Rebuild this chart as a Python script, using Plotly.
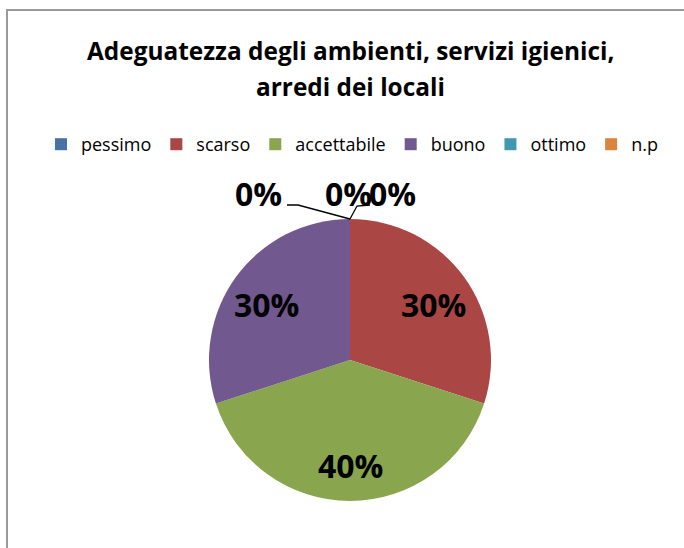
import math
import plotly.graph_objects as go

categories = ["pessimo", "scarso", "accettabile", "buono", "ottimo", "n.p"]
values = [0, 30, 40, 30, 0, 0]
colors = ["#4572A7", "#AA4643", "#89A54E", "#71588F", "#4198AF", "#DB843D"]
title_lines = ["Adeguatezza degli ambienti, servizi igienici,", "arredi dei locali"]

W, H = 684, 548
font_family = "'Open Sans', 'Liberation Sans', sans-serif"

# pie geometry (pixels)
cx, cy, r = 350, 360, 141


def px(x):
    return x / W


def py(y):
    return 1 - y / H


total = sum(values)
pct_text = [f"{round(100 * v / total)}%" for v in values]

fig = go.Figure()
fig.add_trace(go.Pie(
    labels=categories,
    values=values,
    sort=False,
    direction="clockwise",
    rotation=0,
    marker=dict(colors=colors, line=dict(color="white", width=0)),
    textinfo="none",
    domain=dict(x=[px(cx - r), px(cx + r)], y=[py(cy + r), py(cy - r)]),
    showlegend=True,
    hoverinfo="label+percent",
))

label_font = dict(family=font_family, size=32, color="black", weight="bold")
annotations = []

# title (two lines)
for text, ty in zip(title_lines, [50, 87]):
    annotations.append(dict(
        x=px(350), y=py(ty), xref="paper", yref="paper", text=text, showarrow=False,
        xanchor="center", yanchor="middle",
        font=dict(family=font_family, size=24.4, color="black", weight="bold"),
    ))

# inside labels, placed at the mid-angle of each slice
cum = 0
for v, t in zip(values, pct_text):
    if v > 0:
        mid = 2 * math.pi * (cum + v / 2) / total
        lx = cx + 0.73 * r * math.sin(mid)
        ly = cy - 0.72 * r * math.cos(mid) + 4
        annotations.append(dict(x=px(lx), y=py(ly), xref="paper", yref="paper", text=t,
                                showarrow=False, xanchor="center", yanchor="middle",
                                font=label_font))
    cum += v

# outside labels for the zero-valued slices (all sit at the top of the pie)
zero_idx = [i for i, v in enumerate(values) if v == 0]
zero_label_pos = [(258, 194), (348, 193), (392, 193)]
for (lx, ly), i in zip(zero_label_pos, zero_idx):
    annotations.append(dict(
        x=px(lx), y=py(ly), xref="paper", yref="paper", text=pct_text[i],
        showarrow=False, xanchor="center", yanchor="middle", font=label_font,
    ))

top_x, top_y = cx, cy - r
leader_paths = [
    [(287, 205), (298, 205), (top_x, top_y)],
    [(370, 205), (357, 206), (top_x, top_y)],
]
shapes = [
    dict(type="rect", xref="paper", yref="paper", x0=px(7), x1=1.05, y0=-0.05, y1=py(10),
         line=dict(color="#9a9a9a", width=2), fillcolor="rgba(0,0,0,0)"),
]
for pts in leader_paths:
    path = "M " + " L ".join(f"{px(x)},{py(y)}" for x, y in pts)
    shapes.append(dict(type="path", xref="paper", yref="paper", path=path,
                       line=dict(color="black", width=1.3)))

fig.update_layout(
    width=W, height=H,
    margin=dict(l=0, r=0, t=0, b=0),
    paper_bgcolor="white",
    plot_bgcolor="white",
    font=dict(family=font_family, color="black"),
    legend=dict(orientation="h", x=px(352), xanchor="center", y=py(144.5), yanchor="middle",
                font=dict(family=font_family, size=18, color="black"),
                itemwidth=30, traceorder="normal"),
    annotations=annotations,
    shapes=shapes,
)

fig.write_html("out.html", config={"displayModeBar": False},
               post_script="document.body.style.margin='0px';")
